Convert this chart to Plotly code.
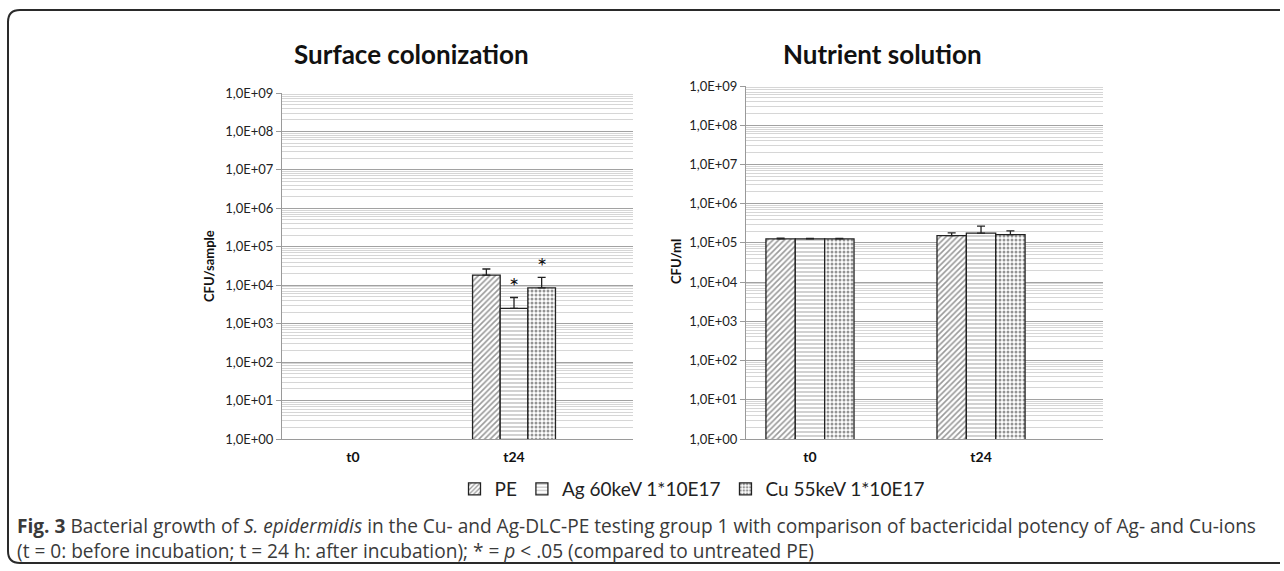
import math
import plotly.graph_objects as go

# ---------------- data ----------------
categories = ["t0", "t24"]
series_names = ["PE", "Ag 60keV 1*10E17", "Cu 55keV 1*10E17"]

surface_pe = [None, 1.84e4]
surface_ag = [None, 2.5e3]
surface_cu = [None, 8.5e3]
surface_pe_err = [0, 0.8e4]
surface_ag_err = [0, 2.3e3]
surface_cu_err = [0, 7.5e3]
surface_significant = [False, True, True]   # at t24: PE, Ag, Cu

nutrient_pe = [1.26e5, 1.54e5]
nutrient_ag = [1.26e5, 1.77e5]
nutrient_cu = [1.26e5, 1.63e5]
nutrient_pe_err = [0.06e5, 0.27e5]
nutrient_ag_err = [0.05e5, 0.9e5]
nutrient_cu_err = [0.05e5, 0.4e5]

decades = list(range(0, 10))
decade_labels = ["1,0E+%02d" % d for d in decades]

# ---------------- layout helpers ----------------
W, H = 1280, 566
def px(x):
    return x / W
def py(y):
    return 1 - y / H

FONT = "Lato"
patterns = [
    dict(shape="/", fgcolor="#333333", bgcolor="white", size=4, solidity=0.4),
    dict(shape="-", fgcolor="#666666", bgcolor="white", size=4, solidity=0.3),
    dict(shape=".", fgcolor="#2a2a2a", bgcolor="white", size=4, solidity=0.45),
]
xpos = list(range(len(categories)))
BARGAP = 0.485

fig = go.Figure()

surface_vals = [surface_pe, surface_ag, surface_cu]
surface_errs = [surface_pe_err, surface_ag_err, surface_cu_err]
nutrient_vals = [nutrient_pe, nutrient_ag, nutrient_cu]
nutrient_errs = [nutrient_pe_err, nutrient_ag_err, nutrient_cu_err]

err_style = dict(type="data", symmetric=False, color="#222222", thickness=1.3, width=4)

for i, name in enumerate(series_names):
    fig.add_trace(go.Bar(
        x=xpos, y=surface_vals[i], name=name, legendgroup=name,
        marker=dict(color="white", pattern=patterns[i], line=dict(color="#222222", width=1.3)),
        error_y=dict(array=surface_errs[i], arrayminus=[0] * len(categories), **err_style),
        xaxis="x", yaxis="y", showlegend=True,
    ))
for i, name in enumerate(series_names):
    fig.add_trace(go.Bar(
        x=xpos, y=nutrient_vals[i], name=name, legendgroup=name,
        marker=dict(color="white", pattern=patterns[i], line=dict(color="#222222", width=1.3)),
        error_y=dict(array=nutrient_errs[i], arrayminus=[0] * len(categories), **err_style),
        xaxis="x2", yaxis="y2", showlegend=False,
    ))

minor_vals = [k * 10 ** d for d in decades[:-1] for k in range(2, 10)]

def yaxis_cfg(domain, anchor):
    return dict(
        type="log", range=[0, 9], domain=domain, anchor=anchor,
        tickvals=[10 ** d for d in decades], ticktext=decade_labels,
        tickfont=dict(family=FONT, size=13, color="#222222"),
        showgrid=True, gridcolor="#a2a2a2", gridwidth=1.2,
        minor=dict(tickvals=minor_vals, showgrid=True, gridcolor="#d6d6d6", gridwidth=1, ticks=""),
        showline=True, linecolor="#9a9a9a", linewidth=1,
        ticks="outside", ticklen=5, tickcolor="#9a9a9a",
        zeroline=False, fixedrange=True, automargin=False,
    )

def xaxis_cfg(domain, anchor, rng):
    return dict(
        domain=domain, anchor=anchor, range=rng,
        tickvals=xpos, ticktext=["<b>%s</b>" % c for c in categories],
        tickfont=dict(family=FONT, size=14, color="#111111"),
        showgrid=False, showline=True, linecolor="#9a9a9a", linewidth=1,
        ticks="", ticklabelstandoff=5, zeroline=False, fixedrange=True, automargin=False,
    )

fig.update_layout(
    width=W, height=H,
    margin=dict(l=0, r=0, t=0, b=0, autoexpand=False),
    paper_bgcolor="white", plot_bgcolor="white",
    barmode="group", bargap=BARGAP, bargroupgap=0,
    xaxis=xaxis_cfg([px(282), px(633)], "y", [-0.441, 1.739]),
    yaxis=yaxis_cfg([py(439), py(93)], "x"),
    xaxis2=xaxis_cfg([px(746), px(1103)], "y2", [-0.374, 1.713]),
    yaxis2=yaxis_cfg([py(439), py(86)], "x2"),
    legend=dict(
        orientation="h", x=px(692), xanchor="center", y=py(489), yanchor="middle",
        font=dict(family=FONT, size=19, color="#222222"),
        itemwidth=30, bgcolor="rgba(0,0,0,0)",
    ),
    showlegend=True,
)

ann = []
# subplot titles
ann.append(dict(text="<b>Surface colonization</b>", x=px(411), y=py(54), xref="paper", yref="paper",
                xanchor="center", yanchor="middle",
                showarrow=False, font=dict(family=FONT, size=26, color="#111111")))
ann.append(dict(text="<b>Nutrient solution</b>", x=px(882), y=py(54), xref="paper", yref="paper",
                xanchor="center", yanchor="middle",
                showarrow=False, font=dict(family=FONT, size=26, color="#111111")))
# y-axis titles
ann.append(dict(text="<b>CFU/sample</b>", x=px(209), y=py(266), xref="paper", yref="paper", textangle=-90,
                xanchor="center", yanchor="middle",
                showarrow=False, font=dict(family=FONT, size=13, color="#111111")))
ann.append(dict(text="<b>CFU/ml</b>", x=px(676), y=py(262), xref="paper", yref="paper", textangle=-90,
                xanchor="center", yanchor="middle",
                showarrow=False, font=dict(family=FONT, size=13, color="#111111")))
# significance stars (t24, surface)
n_series = len(series_names)
bar_w = (1 - BARGAP) / n_series
for i in range(n_series):
    if surface_significant[i]:
        top = surface_vals[i][1] + surface_errs[i][1]
        ann.append(dict(text="*", x=xpos[1] + (i - (n_series - 1) / 2) * bar_w, y=math.log10(top),
                        xref="x", yref="y", showarrow=False, xanchor="center", yanchor="bottom", yshift=-5,
                        font=dict(family=FONT, size=24, color="#111111")))
# caption (two lines in one text block)
ann.append(dict(
    text=("<b>Fig. 3</b> Bacterial growth of <i>S. epidermidis</i> in the Cu- and Ag-DLC-PE testing group 1 "
          "with comparison of bactericidal potency of Ag- and Cu-ions<br>"
          "(t = 0: before incubation; t = 24 h: after incubation); * = <i>p</i> &lt; .05 (compared to untreated PE)"),
    x=px(15), y=py(538.5), xref="paper", yref="paper", xanchor="left", yanchor="middle", align="left",
    showarrow=False, font=dict(family="Open Sans", size=19.1, color="#3a3a3a")))
fig.update_layout(annotations=ann)

# rounded frame
path = ("M {r},{t} L {a},{t} Q {l},{t} {l},{b1} L {l},{b2} Q {l},{bt} {a},{bt} L {r},{bt}").format(
    r=1.01, t=py(10), a=px(20), l=px(8), b1=py(22), b2=py(551), bt=py(563))
fig.add_shape(type="path", path=path, xref="paper", yref="paper",
              line=dict(color="#2a2a2a", width=2))

fig.write_html("out.html")
